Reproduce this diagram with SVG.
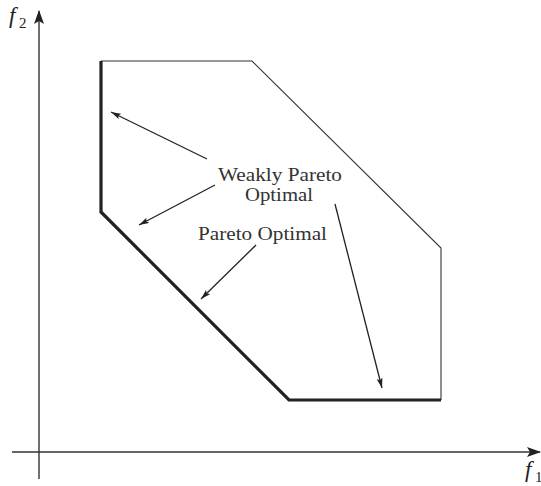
<svg xmlns="http://www.w3.org/2000/svg" width="541" height="486" viewBox="0 0 541 486">
<defs>
<marker id="axh" viewBox="0 0 14 10" refX="13" refY="5" markerWidth="14" markerHeight="10" markerUnits="userSpaceOnUse" orient="auto">
<path d="M0,0 L14,5 L0,10 L3,5 Z" fill="#222"/>
</marker>
<marker id="ah" viewBox="0 0 10 6" refX="10" refY="3" markerWidth="10" markerHeight="6" markerUnits="userSpaceOnUse" orient="auto">
<path d="M0,0 L10,3 L0,6 L2,3 Z" fill="#222"/>
</marker>
<style>
.axis{stroke:#333;stroke-width:1.4;fill:none}
.thin{stroke:#333;stroke-width:1.1;fill:none}
.thick{stroke:#222;stroke-width:3.2;fill:none;stroke-linejoin:miter}
.arr{stroke:#222;stroke-width:1.3;fill:none}
text{font-family:'Liberation Serif','DejaVu Serif',serif}
.lbl{font-size:18px;fill:#333}
.var{font-style:italic;fill:#222}
.sub{font-style:normal;fill:#222}
</style>
</defs>
<g id="axes">
<line class="axis" x1="39" y1="479" x2="39" y2="11" marker-end="url(#axh)"/>
<line class="axis" x1="12" y1="452" x2="540" y2="452" marker-end="url(#axh)"/>
<text class="var" x="9" y="23" font-size="23" font-family="'Liberation Serif','DejaVu Serif',serif">f</text>
<text class="sub" x="19" y="28" font-size="15" font-family="'Liberation Serif','DejaVu Serif',serif">2</text>
<text class="var" x="525" y="477" font-size="23" font-family="'Liberation Serif','DejaVu Serif',serif">f</text>
<text class="sub" x="535" y="482" font-size="15" font-family="'Liberation Serif','DejaVu Serif',serif">1</text>
</g>
<g id="region">
<polyline class="thin" points="101,61 252,61 441,248 441,400"/>
<polyline class="thick" points="101,61 101,212 289,400 441,400"/>
</g>
<g id="connectors">
<line class="arr" x1="207" y1="159" x2="111" y2="112" marker-end="url(#ah)"/>
<line class="arr" x1="215" y1="185" x2="139" y2="225" marker-end="url(#ah)"/>
<line class="arr" x1="256" y1="245" x2="201" y2="299" marker-end="url(#ah)"/>
<line class="arr" x1="335" y1="204" x2="382" y2="388" marker-end="url(#ah)"/>
</g>
<g id="label-weak">
<text class="lbl" x="218" y="181" textLength="124" lengthAdjust="spacingAndGlyphs" font-family="'Liberation Serif','DejaVu Serif',serif">Weakly Pareto</text>
<text class="lbl" x="245" y="201" textLength="68" lengthAdjust="spacingAndGlyphs" font-family="'Liberation Serif','DejaVu Serif',serif">Optimal</text>
</g>
<g id="label-pareto">
<text class="lbl" x="198" y="240" textLength="129" lengthAdjust="spacingAndGlyphs" font-family="'Liberation Serif','DejaVu Serif',serif">Pareto Optimal</text>
</g>
</svg>
